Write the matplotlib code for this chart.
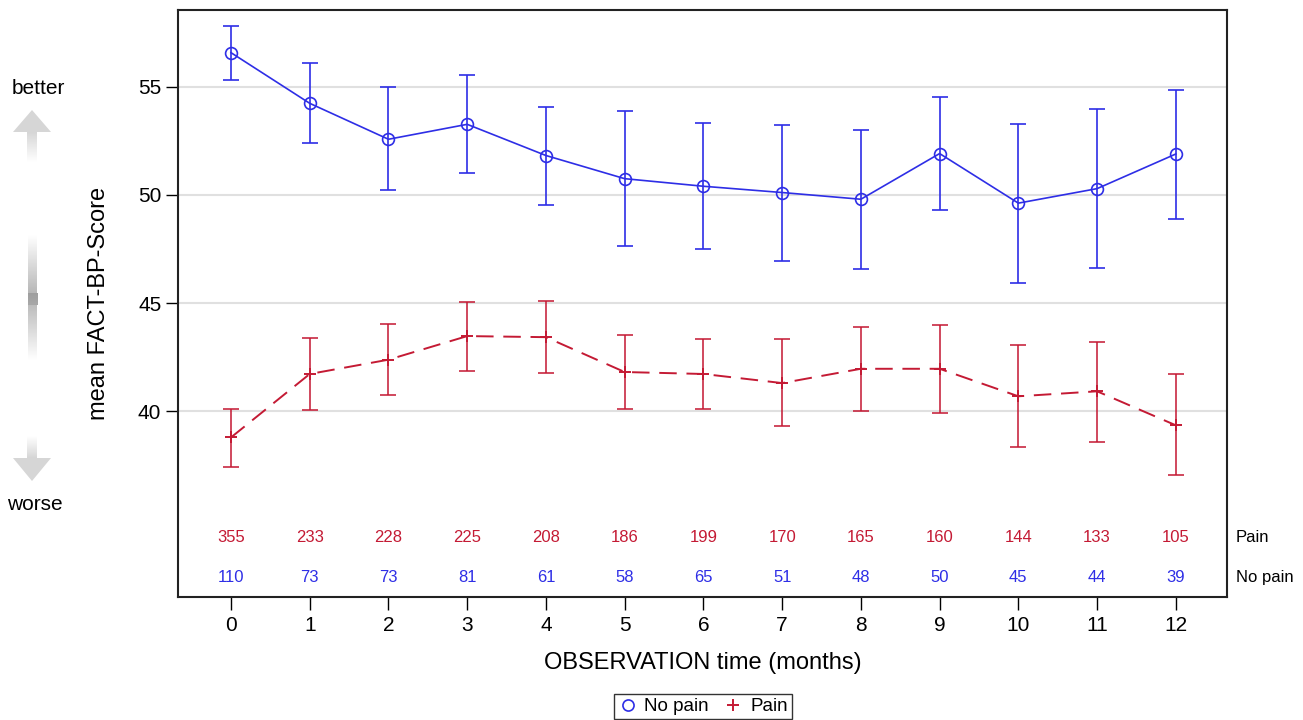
# FACT-BP score over time, pain vs no pain (mean with 95% CI)

import numpy as np
import matplotlib.pyplot as plt
from matplotlib.lines import Line2D
from matplotlib.patches import Polygon

plt.rcParams['font.family'] = ['Liberation Sans', 'DejaVu Sans']

# data
months = [0, 1, 2, 3, 4, 5, 6, 7, 8, 9, 10, 11, 12]

no_pain_mean = [56.57, 54.23, 52.57, 53.26, 51.82, 50.75, 50.40, 50.11, 49.80, 51.91, 49.62, 50.29, 51.89]
no_pain_upper = [57.80, 56.11, 54.97, 55.53, 54.05, 53.89, 53.31, 53.23, 53.00, 54.54, 53.26, 53.97, 54.86]
no_pain_lower = [55.32, 52.39, 50.22, 51.00, 49.55, 47.62, 47.48, 46.97, 46.59, 49.30, 45.91, 46.62, 48.89]

pain_mean = [38.80, 41.73, 42.39, 43.48, 43.43, 41.82, 41.73, 41.31, 41.97, 41.97, 40.70, 40.93, 39.36]
pain_upper = [40.13, 43.39, 44.04, 45.05, 45.09, 43.51, 43.36, 43.36, 43.89, 43.99, 43.05, 43.21, 41.73]
pain_lower = [37.45, 40.07, 40.77, 41.87, 41.79, 40.13, 40.12, 39.31, 40.03, 39.94, 38.37, 38.59, 37.06]

pain_n = [355, 233, 228, 225, 208, 186, 199, 170, 165, 160, 144, 133, 105]
no_pain_n = [110, 73, 73, 81, 61, 58, 65, 51, 48, 50, 45, 44, 39]

yticks = [40, 45, 50, 55]

BLUE = '#2e2ee6'
RED = '#c41a34'

W, H = 1303, 720
fig = plt.figure(figsize=(W / 100, H / 100), dpi=100)
ax = fig.add_axes([178 / W, (H - 597) / H, (1227 - 178) / W, (597 - 10) / H])

# error bars
np_mean = np.array(no_pain_mean)
p_mean = np.array(pain_mean)
ax.errorbar(months, np_mean,
            yerr=[np_mean - np.array(no_pain_lower), np.array(no_pain_upper) - np_mean],
            fmt='none', ecolor=BLUE, elinewidth=1.2, capsize=6, capthick=1.2, zorder=3)
ax.errorbar(months, p_mean,
            yerr=[p_mean - np.array(pain_lower), np.array(pain_upper) - p_mean],
            fmt='none', ecolor=RED, elinewidth=1.4, capsize=6, capthick=1.4, alpha=0.8, zorder=3)

# mean lines
ax.plot(months, np_mean, color=BLUE, lw=1.2, marker='o', ms=8.5, mfc='none', mec=BLUE, mew=1.2, zorder=4)
ax.plot(months, p_mean, color=RED, lw=1.4, dashes=(9, 5), marker='+', ms=9, mew=1.4, zorder=4)

# counts at risk
for m, n1, n2 in zip(months, pain_n, no_pain_n):
    ax.text(m, 34.20, str(n1), color=RED, fontsize=12, ha='center', va='center')
    ax.text(m, 32.31, str(n2), color=BLUE, fontsize=12, ha='center', va='center')
tr = ax.get_yaxis_transform()
ax.text(1.0086, 34.20, 'Pain', transform=tr, fontsize=12, ha='left', va='center')
ax.text(1.0086, 32.31, 'No pain', transform=tr, fontsize=12, ha='left', va='center')

ax.set_xlim(-0.673, 12.65)
ax.set_ylim(31.43, 58.54)
ax.set_xticks(months)
ax.set_yticks(yticks)
ax.tick_params(axis='x', length=9, width=1, pad=5, labelsize=15)
ax.tick_params(axis='y', length=9, width=1, pad=3, labelsize=15)
ax.grid(axis='y', color='#e0e0e0', lw=1.5, zorder=0)
ax.set_axisbelow(True)
for s in ax.spines.values():
    s.set_linewidth(1.5)
    s.set_color('#222222')

ax.set_xlabel('OBSERVATION time (months)', fontsize=17, labelpad=12)
ax.set_ylabel('mean FACT-BP-Score', fontsize=17, labelpad=20)

# legend
handles = [Line2D([], [], ls='none', marker='o', ms=8, mfc='none', mec=BLUE, mew=1.2),
           Line2D([], [], ls='none', marker='+', ms=9, color=RED, mew=1.4)]
leg = fig.legend(handles, ['No pain', 'Pain'], loc='lower center', bbox_to_anchor=(703 / W, 1 / H),
                 ncol=2, fontsize=13.5, frameon=True, fancybox=False, handlelength=1.0,
                 handletextpad=0.4, columnspacing=0.8, borderpad=0.2, borderaxespad=0)
leg.get_frame().set_edgecolor('black')
leg.get_frame().set_linewidth(1.0)

# better / worse arrows on the left (decoration, in pixel coordinates)
deco = fig.add_axes([0, 0, 70 / W, 1])
deco.axis('off')

def vgrad(y0, y1, x0, x1, g_top, g_bot):
    g = np.linspace(g_top, g_bot, 64)[:, None, None] * np.ones((1, 1, 3))
    deco.imshow(g, extent=[x0, x1, y1, y0], aspect='auto', interpolation='bilinear')

vgrad(132, 162, 27, 37, 0.84, 1.0)
deco.add_patch(Polygon([[32, 110], [13, 132], [51, 132]], closed=True, color='#d6d6d6', lw=0))
vgrad(235, 293, 28, 37, 1.0, 0.72)
vgrad(293, 305, 28, 38, 0.62, 0.66)
vgrad(305, 360, 28, 37, 0.74, 1.0)
vgrad(436, 458, 27, 37, 1.0, 0.84)
deco.add_patch(Polygon([[13, 458], [51, 458], [32, 481]], closed=True, color='#d6d6d6', lw=0))
deco.set_xlim(0, 70)
deco.set_ylim(H, 0)

fig.text(38 / W, 1 - 89 / H, 'better', fontsize=15, ha='center', va='center')
fig.text(35 / W, 1 - 504 / H, 'worse', fontsize=15, ha='center', va='center')

plt.savefig('out.png', dpi=100)
